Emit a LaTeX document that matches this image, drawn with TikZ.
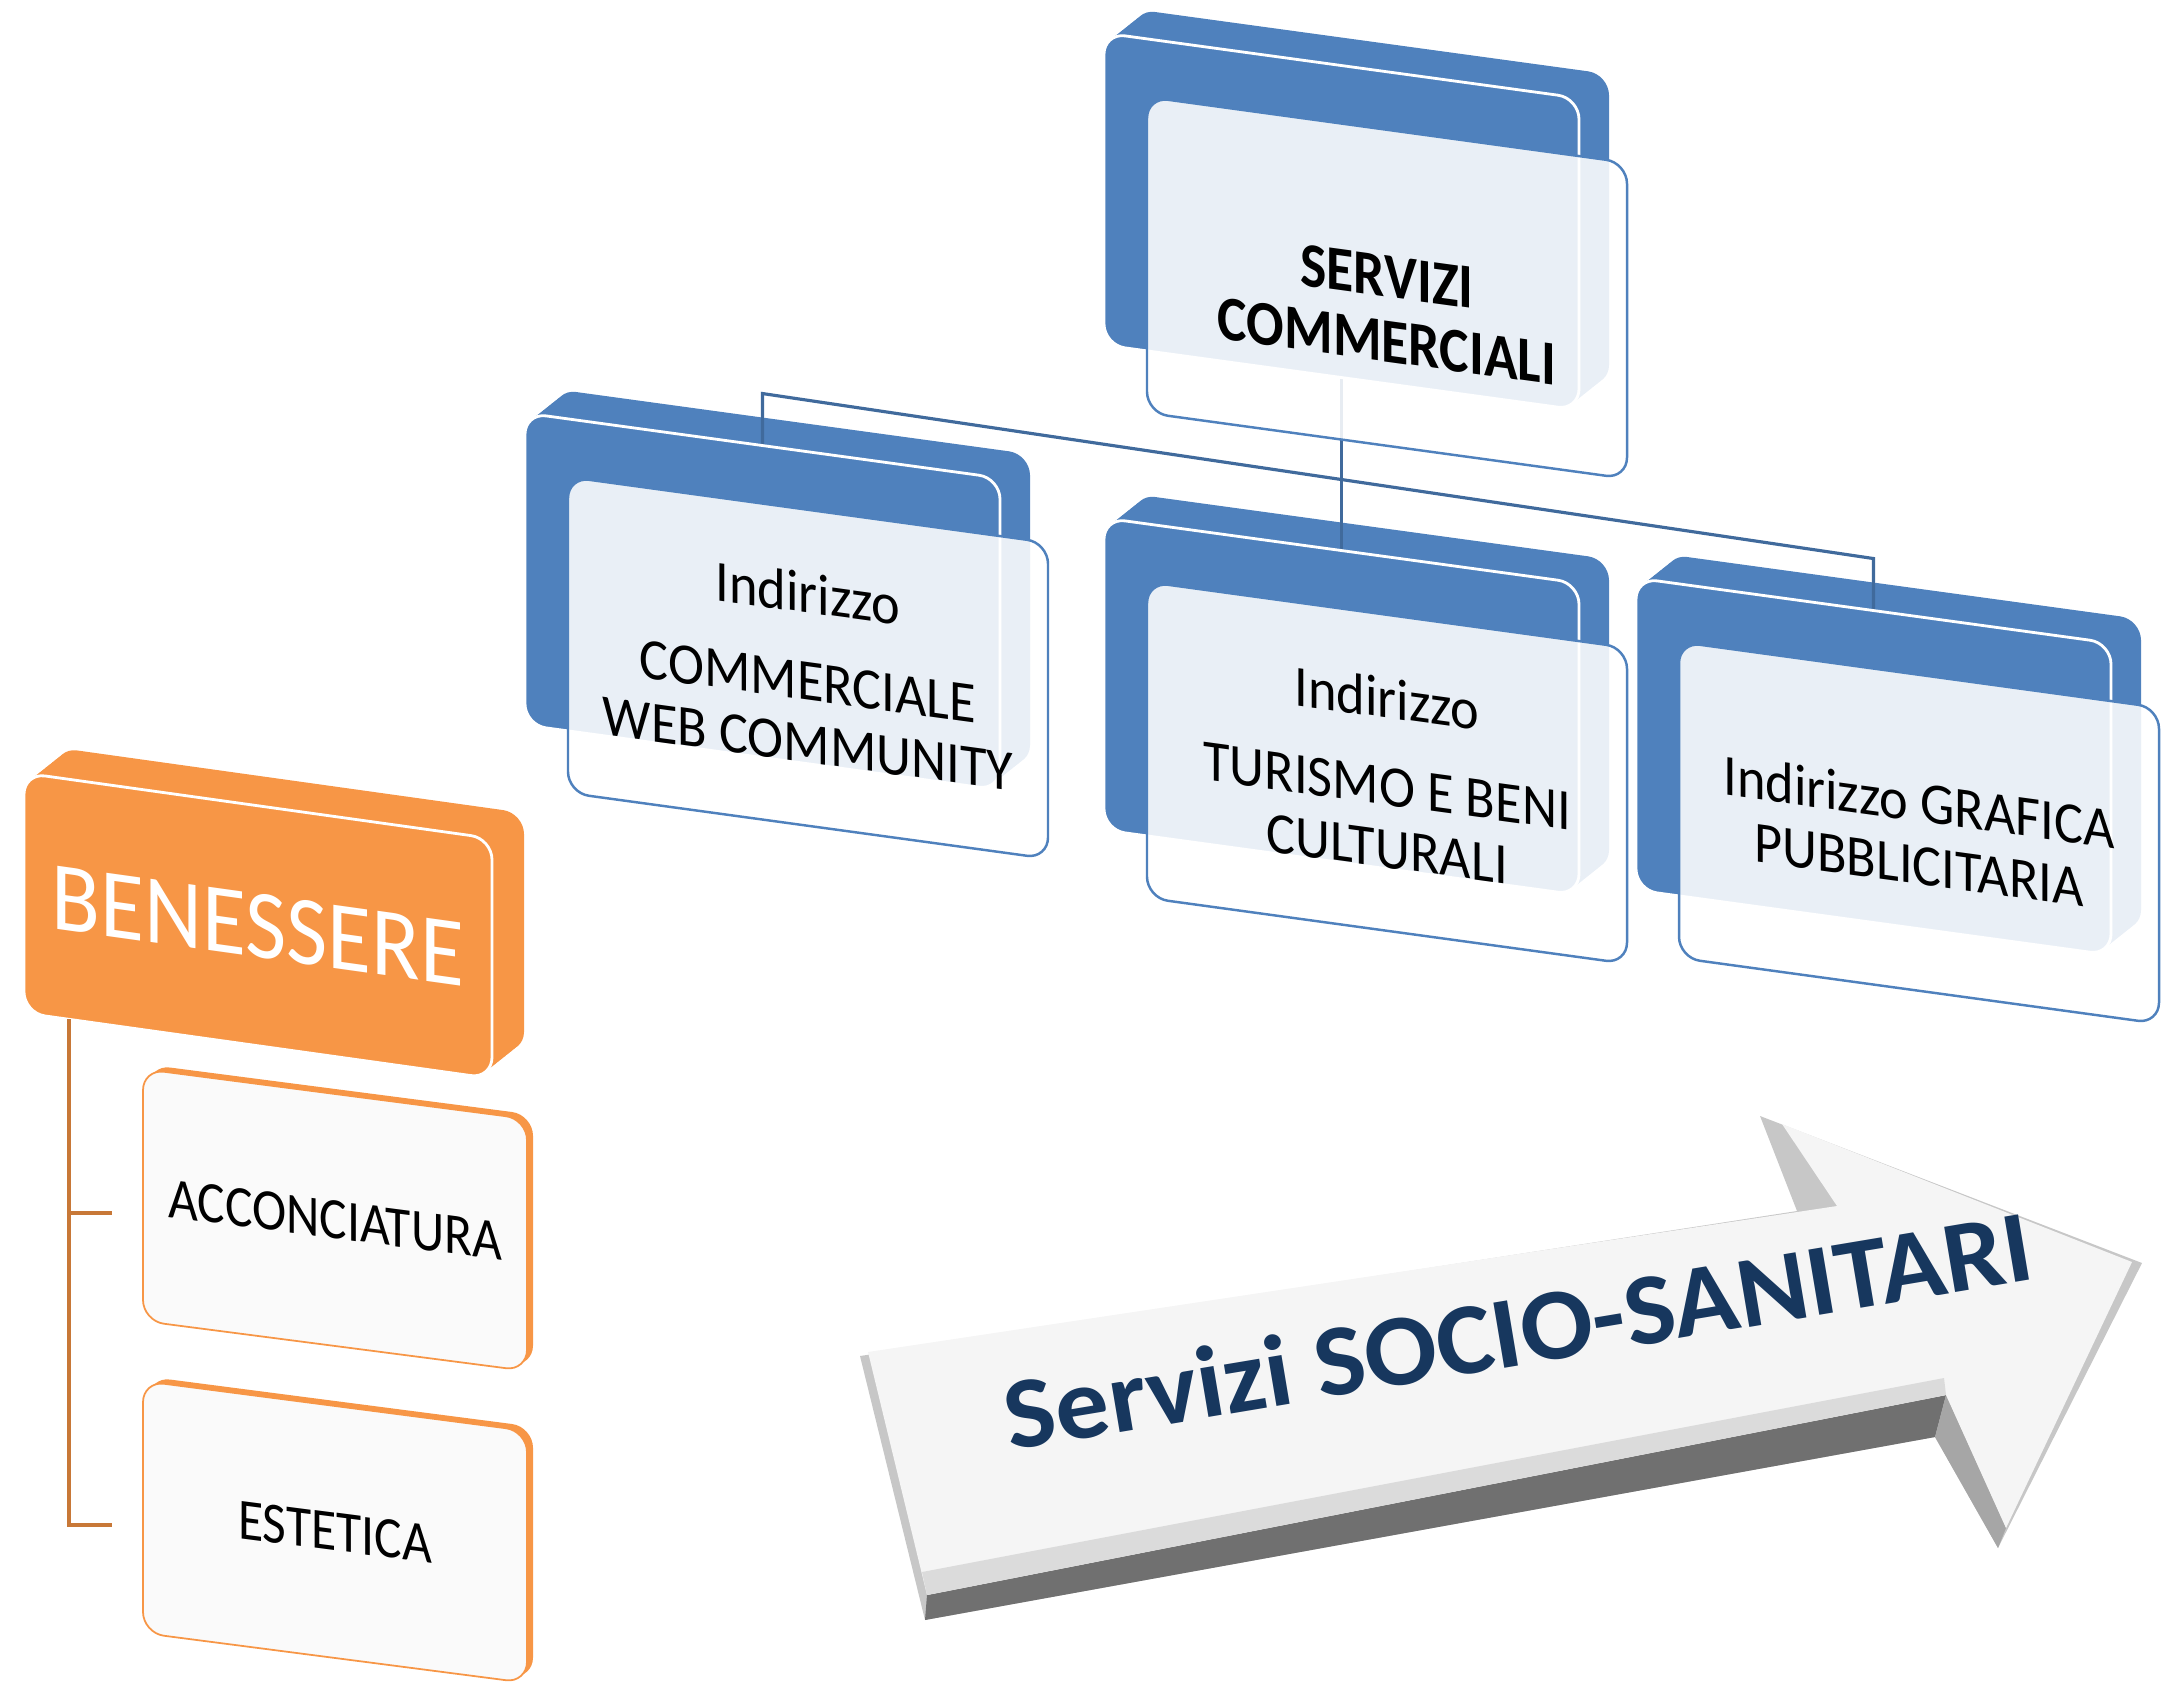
\documentclass[tikz,border=0pt]{standalone}
\usepackage{fontspec}
\setmainfont{Carlito}
\definecolor{azzurro}{RGB}{79,129,189}
\definecolor{linea}{RGB}{64,106,156}
\definecolor{arancio}{RGB}{247,150,70}
\definecolor{rame}{RGB}{200,120,55}
\definecolor{notte}{RGB}{23,55,94}

\begin{document}
\begin{tikzpicture}[x=0.01cm,y=0.01cm]
    \newcommand\retro[2]{% lastra blu dietro + punti di attacco
      \begin{scope}[shift={(#2)},yslant=-0.137]
        \foreach \t in {0,...,10} \fill[retro] (3*\t,2.8*\t) rectangle ++(475,-312);
        \coordinate (#1-top) at (237.5,0);
        \coordinate (#1-bus) at (237.5,52);
        \coordinate (#1-bot) at (237.5,-312);
      \end{scope}}
    \newcommand\fronte[4]{% faccia blu + cartellino trasparente
      \begin{scope}[shift={(#2)},yslant=-0.137]
        \draw[fronte] (0,0) rectangle (475,-312);
        \draw[carta] (43,-58) rectangle (523,-374);
        \node[scritta,#4] (#1) at (283,-216) {#3};
      \end{scope}}
    \newcommand\foglio[3]{% cartellino arancio
      \begin{scope}[shift={(#2)},yslant=-0.13]
        \fill[arancio,rounded corners=6pt] (6,5) rectangle ++(384,-252);
        \draw[fill=black!2,draw=arancio,line width=.5pt,rounded corners=6pt] (0,0) rectangle (384,-252);
        \coordinate (#1-in) at (-31,-148);
        \node[scritta,xscale=.95] (#1) at (192,-126) {#3};
      \end{scope}}
    \tikzstyle{retro}=[fill=azzurro,rounded corners=6pt]
    \tikzstyle{fronte}=[fill=azzurro,draw=white,line width=.8pt,rounded corners=6pt]
    \tikzstyle{carta}=[fill=white,fill opacity=.88,draw=azzurro,line width=.7pt,rounded corners=6pt]
    \tikzstyle{scritta}=[transform shape,xscale=.93,align=center,inner sep=0pt,font=\fontsize{16.6}{17.8}\selectfont]
    \tikzstyle{filo}=[draw=linea,line width=.9pt]
    \tikzstyle{filoA}=[draw=rame,line width=.9pt]
    \useasboundingbox (0,0) rectangle (2179,-1681);

    % albero blu
    \retro{servizi}{1104,-33}
    \retro{web}{525,-413}
    \retro{turismo}{1104,-518}
    \retro{grafica}{1636,-578}
    \draw[filo] (web-top) -- (web-bus) -- (grafica-bus) -- (grafica-top);
    \draw[filo] (servizi-bot) -- (turismo-top);
    \fronte{servizi}{1104,-33}{SERVIZI\\COMMERCIALI}{xscale=.945,font=\bfseries\fontsize{18}{18.5}\selectfont,yshift=-6pt}
    \fronte{web}{525,-413}{Indirizzo\\[7pt]COMMERCIALE\\WEB COMMUNITY}{}
    \fronte{turismo}{1104,-518}{Indirizzo\\[7pt]TURISMO E BENI\\CULTURALI}{}
    \fronte{grafica}{1636,-578}{Indirizzo GRAFICA\\PUBBLICITARIA}{}

    % ramo arancio
    \begin{scope}[shift={(24,-773)},yslant=-0.14]
      \foreach \t in {0,...,10} \fill[arancio,rounded corners=6pt] (3.2*\t,3*\t) rectangle ++(468,-240);
      \draw[fill=arancio,draw=white,line width=.8pt,rounded corners=6pt] (0,0) rectangle (468,-240);
      \node[scritta,text=white,xscale=.98,font=\fontsize{28}{30}\selectfont] (benessere) at (234,-120) {BENESSERE};
      \coordinate (benessere-bot) at (45,-240);
    \end{scope}
    \foglio{acconciatura}{143,-1069}{ACCONCIATURA}
    \foglio{estetica}{143,-1381}{ESTETICA}
    \draw[filoA] (benessere-bot) -- (benessere-bot |- estetica-in) -- (estetica-in);
    \draw[filoA] (benessere-bot |- acconciatura-in) -- (acconciatura-in);

    % freccia
    \fill[black!22] (860,-1356) -- (1797,-1211) -- (1760,-1116) -- (2142,-1263)
                    -- (1998,-1548) -- (1935,-1437) -- (925,-1620) -- cycle;
    \fill[black!56] (927,-1595) -- (1946,-1395) -- (1935,-1437) -- (925,-1620) -- cycle;
    \fill[black!35] (1946,-1395) -- (2006,-1528) -- (1998,-1548) -- (1935,-1437) -- cycle;
    \fill[black!4] (868,-1352) -- (1837,-1206) -- (1782,-1124) -- (2132,-1262)
                   -- (2006,-1528) -- (1946,-1395) -- (927,-1595) -- cycle;
    \fill[black!14] (922,-1572) -- (1944,-1378) -- (1946,-1395) -- (927,-1595) -- cycle;
    \node[rotate=9.5,yscale=.95,text=notte,font=\bfseries\fontsize{30.5}{30.5}\selectfont] (socio) at (1518,-1330) {Servizi SOCIO-SANITARI};
\end{tikzpicture}
\end{document}
